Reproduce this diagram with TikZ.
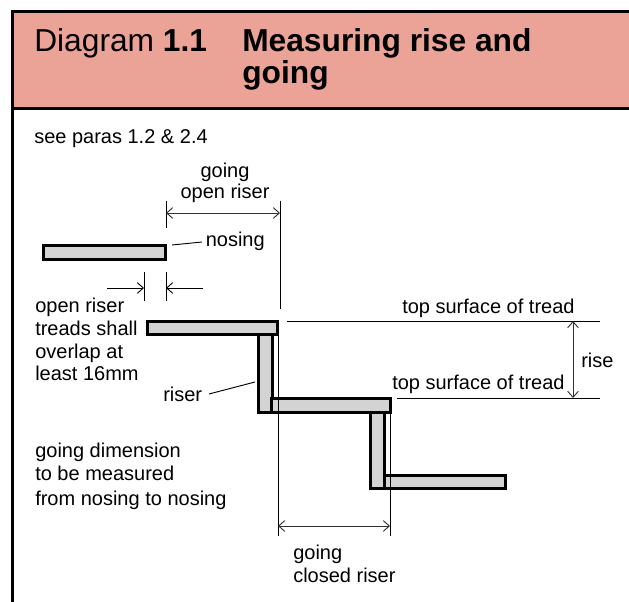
\documentclass[tikz,border=0pt]{standalone}
\usepackage{fontspec}
\setmainfont{Liberation Sans}
\usetikzlibrary{arrows.meta}
\definecolor{head}{RGB}{234,163,150}
\definecolor{tread}{RGB}{211,211,211}
\tikzset{
  x=0.75pt,y=-0.75pt,
  lab/.style={inner sep=0pt,font=\fontsize{15pt}{18pt}\selectfont,anchor=base west},
  labc/.style={inner sep=0pt,font=\fontsize{15pt}{18pt}\selectfont,anchor=base},
  ttl/.style={inner sep=0pt,font=\fontsize{23.8pt}{29pt}\selectfont,anchor=base west},
  board/.style={draw=black,fill=tread,line width=2.25pt,line join=miter},
  rule/.style={draw=black,line width=2.25pt},
  thinline/.style={draw=black,line width=0.7pt},
  dim/.style={draw=black!80,line width=0.7pt,{Straight Barb[length=4.5pt,width=8pt]}-{Straight Barb[length=4.5pt,width=8pt]}},
  dimr/.style={draw=black,line width=0.7pt,-{Straight Barb[length=4.5pt,width=8pt]}}
}
\begin{document}
\begin{tikzpicture}
\useasboundingbox (0,0) rectangle (629,602);
\fill[white] (0,0) rectangle (629,602);
\fill[head] (12.5,11.5) rectangle (629,108.5);
\draw[rule] (12.5,602) -- (12.5,11.5) -- (629,11.5);
\draw[rule] (12.5,108.5) -- (629,108.5);
\node[ttl] (t1) at (34,52) {Diagram \textbf{1.1}};
\node[ttl] (t2) at (242,52) {\textbf{Measuring rise and}};
\node[ttl] (t3) at (242,84) {\textbf{going}};
\node[lab] (see) at (34,144) {see paras 1.2 \& 2.4};
% boards
\draw[board] (43.5,245.5) rectangle (165.5,259.5);
\draw[board] (258.5,334.5) rectangle (272.5,412.5);
\draw[board] (147.5,321.5) rectangle (277.5,334.5);
\draw[board] (370.5,412.5) rectangle (384.5,488.5);
\draw[board] (271.5,398.5) rectangle (390.5,412.5);
\draw[board] (384.5,475.5) rectangle (505.5,488.5);
% going, open riser
\coordinate (a1) at (166,201); \coordinate (a2) at (166,228);
\coordinate (b1) at (280,201); \coordinate (b2) at (280,309);
\coordinate (am) at (166,213); \coordinate (bm) at (280,213);
\draw[thinline] (a1) -- (a2);
\draw[thinline] (b1) -- (b2);
\draw[dim] (am) -- (bm);
\node[labc] (g1) at (225,178) {going};
\node[labc] (g2) at (225,199) {open riser};
\node[lab] (nos) at (205.5,247) {nosing};
\coordinate (n1) at (172,245); \coordinate (n2) at (202,242);
\draw[thinline] (n1) -- (n2);
% overlap
\coordinate (c1) at (144,272); \coordinate (c2) at (144,301);
\coordinate (d1) at (166,272); \coordinate (d2) at (166,301);
\coordinate (c0) at (107,288); \coordinate (cm) at (144,288);
\coordinate (d0) at (203,288); \coordinate (dm) at (166,288);
\draw[thinline] (c1) -- (c2);
\draw[thinline] (d1) -- (d2);
\draw[dimr] (c0) -- (cm);
\draw[dimr] (d0) -- (dm);
\node[lab] (o1) at (35,313) {open riser};
\node[lab] (o2) at (35,336) {treads shall};
\node[lab] (o3) at (35,359) {overlap at};
\node[lab] (o4) at (35,381) {least 16mm};
% rise
\coordinate (e1) at (287,321); \coordinate (e2) at (600,321);
\coordinate (f1) at (397,398); \coordinate (f2) at (600,398);
\coordinate (em) at (573,321); \coordinate (fm) at (573,398);
\draw[thinline] (e1) -- (e2);
\draw[thinline] (f1) -- (f2);
\draw[dim] (em) -- (fm);
\node[lab] (s1) at (402,314) {top surface of tread};
\node[lab] (s2) at (392,390) {top surface of tread};
\node[lab] (r) at (581,368) {rise};
% riser
\node[lab] (rs) at (163,402) {riser};
\coordinate (h1) at (209,394); \coordinate (h2) at (255,382);
\draw[thinline] (h1) -- (h2);
\node[lab] (m1) at (35,458) {going dimension};
\node[lab] (m2) at (35,481) {to be measured};
\node[lab] (m3) at (35,505) {from nosing to nosing};
% going, closed riser
\coordinate (k1) at (278,336); \coordinate (k2) at (278,536);
\coordinate (l1) at (390,413); \coordinate (l2) at (390,536);
\coordinate (km) at (278,526); \coordinate (lm) at (390,526);
\draw[thinline] (k1) -- (k2);
\draw[thinline] (l1) -- (l2);
\draw[dim] (km) -- (lm);
\node[lab] (g3) at (293,559) {going};
\node[lab] (g4) at (293,582) {closed riser};
\end{tikzpicture}
\end{document}
